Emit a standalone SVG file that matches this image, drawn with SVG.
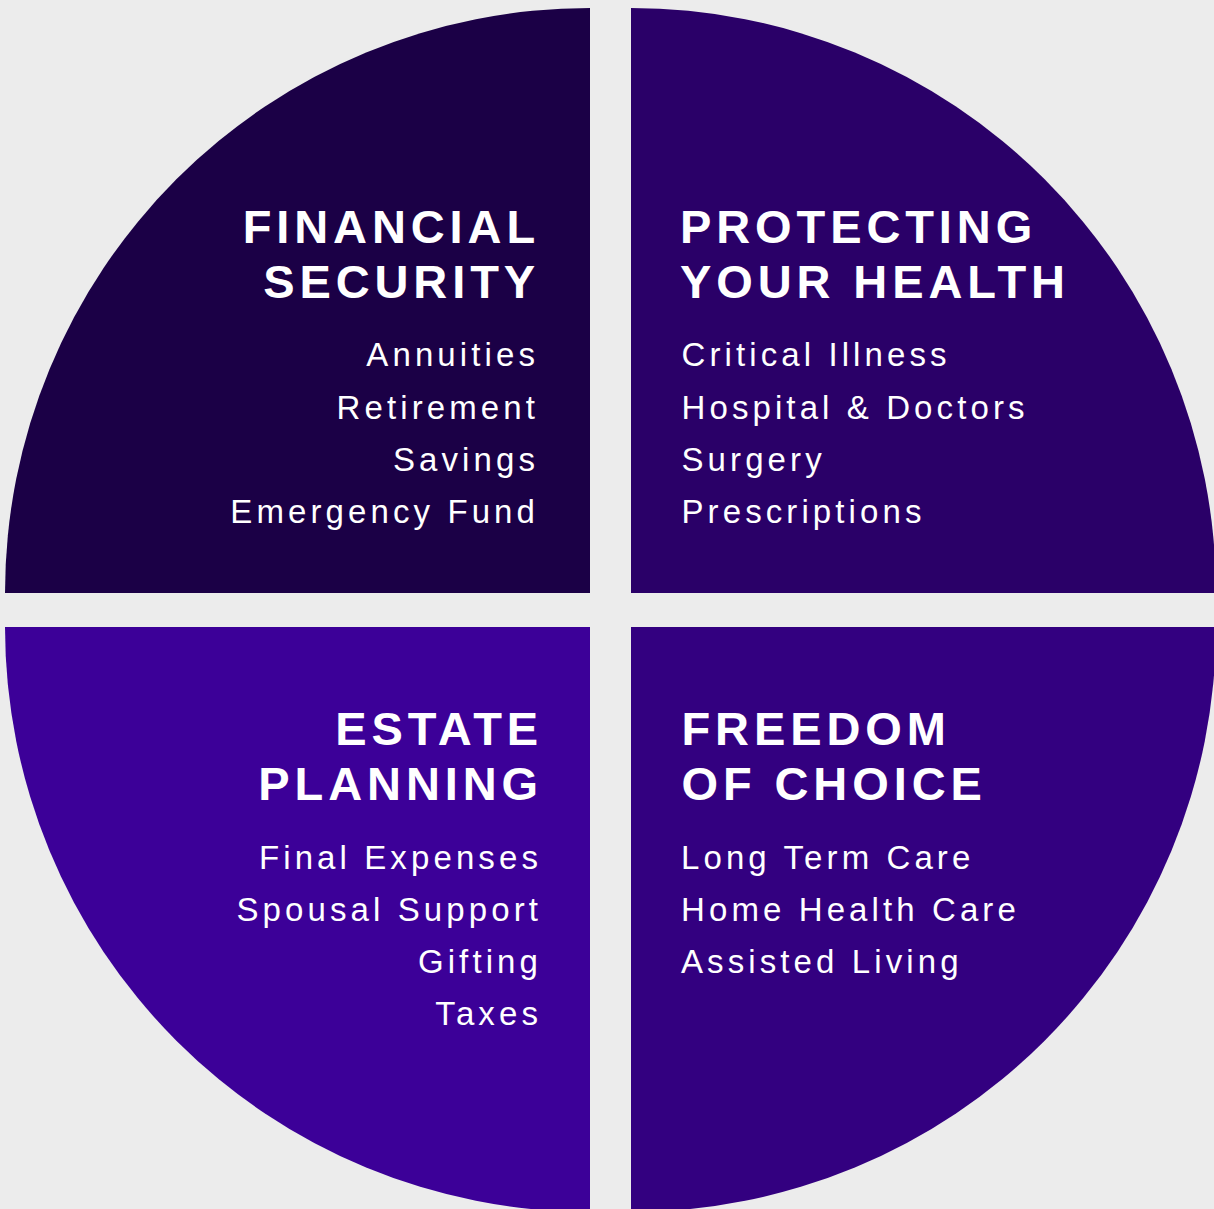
<svg xmlns="http://www.w3.org/2000/svg" width="1214" height="1209" viewBox="0 0 1214 1209">
<style>
.title{font-family:"Liberation Sans",Arial,sans-serif;font-weight:bold;font-size:47px;letter-spacing:4.9px;fill:#ffffff}
.item{font-family:"Liberation Sans",Arial,sans-serif;font-size:33px;letter-spacing:4.1px;fill:#ffffff}
.end{text-anchor:end}
</style>
<rect x="0" y="0" width="1214" height="1209" fill="#ececec"/>
<g id="financial-security">
<path d="M590,593 L5,593 A585,585 0 0 1 590,8 Z" fill="#1b0046"/>
<text class="title end" x="540" y="243">FINANCIAL</text>
<text class="title end" x="540" y="298">SECURITY</text>
<text class="item end" x="539" y="366">Annuities</text>
<text class="item end" x="539" y="418.5">Retirement</text>
<text class="item end" x="539" y="470.5">Savings</text>
<text class="item end" x="539" y="522.5">Emergency Fund</text>
</g>
<g id="protecting-your-health">
<path d="M631,593 L631,8 A585,585 0 0 1 1216,593 Z" fill="#2a0068"/>
<text class="title" x="680" y="243">PROTECTING</text>
<text class="title" x="680" y="298">YOUR HEALTH</text>
<text class="item" x="681.5" y="366">Critical Illness</text>
<text class="item" x="681.5" y="418.5">Hospital &amp; Doctors</text>
<text class="item" x="681.5" y="470.5">Surgery</text>
<text class="item" x="681.5" y="522.5">Prescriptions</text>
</g>
<g id="estate-planning">
<path d="M590,627 L590,1212 A585,585 0 0 1 5,627 Z" fill="#3c0098"/>
<text class="title end" x="543" y="745">ESTATE</text>
<text class="title end" x="543" y="799.5">PLANNING</text>
<text class="item end" x="542" y="869">Final Expenses</text>
<text class="item end" x="542" y="921">Spousal Support</text>
<text class="item end" x="542" y="973">Gifting</text>
<text class="item end" x="542" y="1025">Taxes</text>
</g>
<g id="freedom-of-choice">
<path d="M631,627 L1216,627 A585,585 0 0 1 631,1212 Z" fill="#330080"/>
<text class="title" x="681.5" y="745">FREEDOM</text>
<text class="title" x="681.5" y="799.5">OF CHOICE</text>
<text class="item" x="681" y="869">Long Term Care</text>
<text class="item" x="681" y="921">Home Health Care</text>
<text class="item" x="681" y="973">Assisted Living</text>
</g>
<g id="connectors"/>
</svg>
